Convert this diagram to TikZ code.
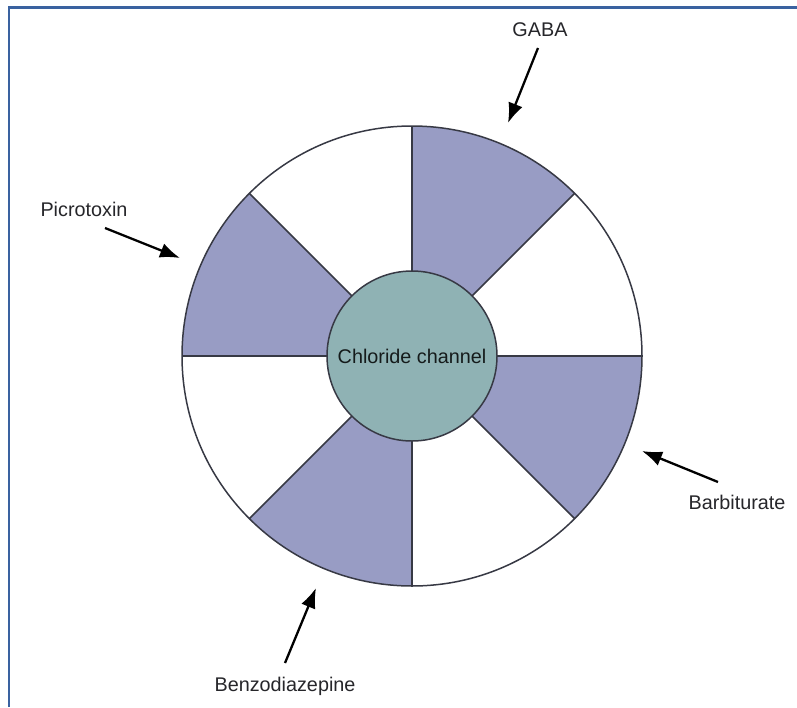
\documentclass[tikz,border=0pt]{standalone}
\usepackage{fontspec}
\setmainfont{Liberation Sans}
\usetikzlibrary{arrows.meta}
\definecolor{framec}{RGB}{58,98,160}
\definecolor{lav}{RGB}{152,156,196}
\definecolor{teal}{RGB}{143,178,180}
\definecolor{edge}{RGB}{55,57,68}
\definecolor{txt}{RGB}{38,38,42}
\tikzset{
  lbl/.style={font=\fontsize{19.8}{22}\selectfont, text=txt, inner sep=0pt},
  ptr/.style={draw=black, line width=2.3pt, -{Latex[length=20pt,width=15pt]}},
  wedge/.style={fill=lav},
  divider/.style={draw=edge, line width=1.5pt},
  frameline/.style={draw=framec, line width=2.6pt}
}
\begin{document}
\begin{tikzpicture}[x=1pt,y=1pt]
\useasboundingbox (0,-707) rectangle (797,0);
\draw[frameline] (9,-707) -- (9,-7.5) -- (797,-7.5);
\coordinate (c) at (412,-356);
% shaded wedges
\foreach \a in {45,-45,-135,135}{
  \fill[wedge] (c) -- ++(\a:230) arc[start angle=\a, end angle=\a+45, radius=230] -- cycle;
}
% dividers
\foreach \a in {0,45,...,315}{
  \draw[divider] (c) -- ++(\a:230);
}
\draw[divider] (c) circle[radius=230];
\node[circle, minimum size=170pt, fill=teal, draw=edge, line width=1.5pt, inner sep=0pt,
  font=\fontsize{19.8}{22}\selectfont, text=black!85!teal] (ch) at (c) {Chloride channel};
% labels
\node[lbl] (gaba) at (540,-30) {GABA};
\node[lbl] (picro) at (84,-209) {Picrotoxin};
\node[lbl] (barb) at (737,-502) {Barbiturate};
\node[lbl] (benzo) at (285,-686) {Benzodiazepine};
\coordinate (gabaS) at (538,-48);
\coordinate (gabaT) at (508,-123);
\coordinate (picroS) at (105,-228);
\coordinate (picroT) at (180,-258);
\coordinate (barbS) at (718,-482);
\coordinate (barbT) at (642,-451);
\coordinate (benzoS) at (285,-663);
\coordinate (benzoT) at (316,-588);
\draw[ptr] (gabaS) -- (gabaT);
\draw[ptr] (picroS) -- (picroT);
\draw[ptr] (barbS) -- (barbT);
\draw[ptr] (benzoS) -- (benzoT);
\end{tikzpicture}
\end{document}
